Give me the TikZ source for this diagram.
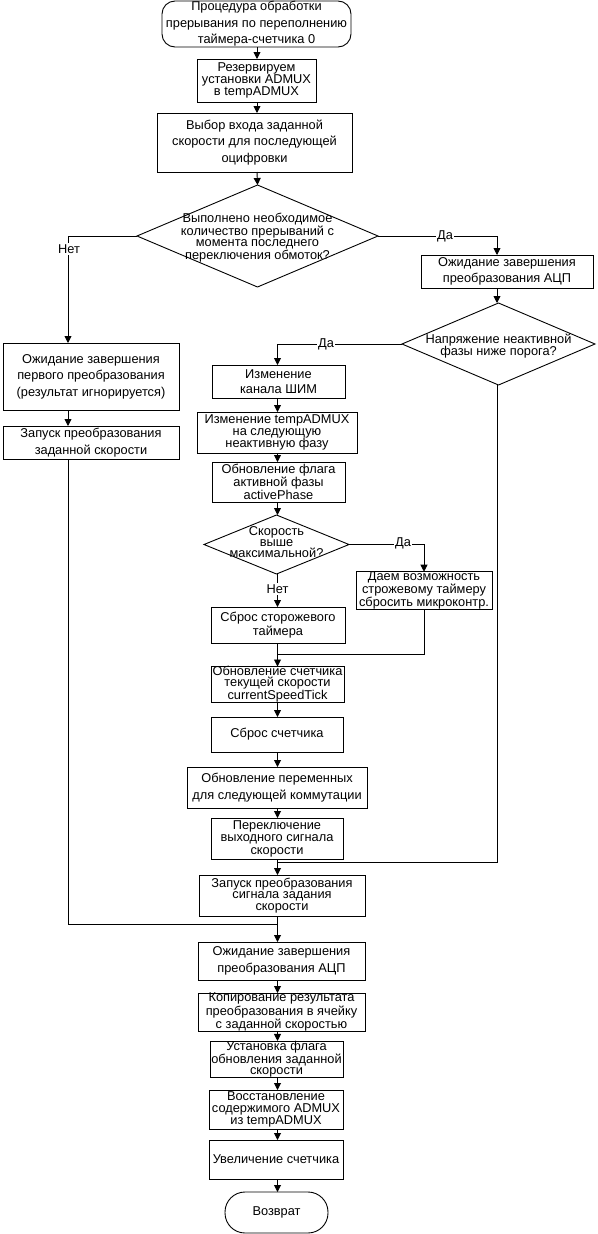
\documentclass[tikz,border=0pt]{standalone}
\usepackage{fontspec}
\setmainfont{Liberation Sans}
\usetikzlibrary{shapes.geometric,arrows.meta}
\tikzset{
  base/.style={draw, line width=0.9pt, inner sep=0pt, outer sep=0pt, align=center, font=\fontsize{12.8}{15}\selectfont},
  sz/.style 2 args={minimum width=#1pt, minimum height=#2pt},
  tight/.style={font=\fontsize{12.8}{12}\selectfont},
  vtight/.style={font=\fontsize{12.8}{11}\selectfont},
  loose/.style={font=\fontsize{12.8}{16.5}\selectfont},
  proc/.style={base, rectangle},
  term/.style={base, rectangle, rounded corners=13pt},
  stadium/.style={base, rectangle, rounded corners=20pt},
  dia/.style={base, diamond},
  dtext/.style={align=center, inner sep=0pt, font=\fontsize{12.8}{11}\selectfont},
  lbl/.style={fill=white, inner sep=1.5pt, font=\fontsize{12.8}{14}\selectfont},
  arr/.style={line width=0.9pt, -{Triangle[width=7pt,length=7pt]}},
  ln/.style={line width=0.9pt},
}
\begin{document}
\begin{tikzpicture}[x=1pt,y=-1pt]
\useasboundingbox (0,0) rectangle (597,1234);
% column coordinates
\coordinate (colA) at (257,0);
\coordinate (colL) at (68,0);
\coordinate (colM) at (277.5,0);
\coordinate (colR) at (497,0);
\coordinate (colW) at (424,0);
% nodes
\node[term, loose, sz={189}{46}] (start) at (256.5,24) {Процедура обработки\\прерывания по переполнению\\таймера-счетчика 0};
\node[proc, tight, sz={119}{43}] (res) at (256.5,80.5) {Резервируем\\установки ADMUX\\в tempADMUX};
\node[proc, loose, sz={195}{59}] (sel) at (254.5,142.5) {Выбор входа заданной\\скорости для последующей\\оцифровки};
\node[dia, sz={241}{102}] (d1) at (257.5,236) {};
\node[dtext] (d1t) at (257.5,238) {Выполнено необходимое\\количество прерываний с\\момента последнего\\переключения обмоток?};
\node[proc, loose, sz={172}{33}] (waitR) at (507,271.5) {Ожидание завершения\\преобразования АЦП};
\node[dia, sz={193}{82}] (d2) at (498.5,344) {};
\node[dtext, font=\fontsize{12.8}{12.5}\selectfont] (d2t) at (498.5,346) {Напряжение неактивной\\фазы ниже порога?};
\node[proc, loose, sz={176}{67}] (waitL) at (91,376.5) {Ожидание завершения\\первого преобразования\\(результат игнорируется)};
\node[proc, loose, sz={176}{33}] (startL) at (91,442.5) {Запуск преобразования\\заданной скорости};
\node[proc, sz={133}{33}] (pwm) at (278.5,381.5) {Изменение\\канала ШИМ};
\node[proc, tight, sz={160}{41}] (tadm) at (277,432.5) {Изменение tempADMUX\\на следующую\\неактивную фазу};
\node[proc, font=\fontsize{12.8}{13}\selectfont, sz={133}{40}] (flag) at (278.5,482) {Обновление флага\\активной фазы\\activePhase};
\node[dia, sz={145}{59}] (d3) at (276.5,544.5) {};
\node[dtext] (d3t) at (276.5,542) {Скорость\\выше\\максимальной?};
\node[proc, tight, sz={136}{35}] (wd) at (424,590.5) {Даем возможность\\строжевому таймеру\\сбросить микроконтр.};
\node[proc, font=\fontsize{12.8}{13.5}\selectfont, sz={134}{36}] (rst) at (278,625) {Сброс сторожевого\\таймера};
\node[proc, vtight, sz={133}{35}] (cst) at (277.5,684.5) {Обновление счетчика\\текущей скорости\\currentSpeedTick};
\node[proc, sz={132}{35}] (rcnt) at (277,734.5) {Сброс счетчика};
\node[proc, loose, sz={180}{41}] (upd) at (277,787.5) {Обновление переменных\\для следующей коммутации};
\node[proc, font=\fontsize{12.8}{12.5}\selectfont, sz={132}{41}] (sw) at (277,838.5) {Переключение\\выходного сигнала\\скорости};
\node[proc, font=\fontsize{12.8}{11.5}\selectfont, sz={166}{41}] (conv) at (282,895.5) {Запуск преобразования\\сигнала задания\\скорости};
\node[proc, loose, sz={167}{38}] (wait2) at (281.5,961) {Ожидание завершения\\преобразования АЦП};
\node[proc, vtight, sz={167}{38}] (copy) at (281.5,1012) {Копирование результата\\преобразования в ячейку\\с заданной скоростью};
\node[proc, vtight, sz={133}{32}] (setf) at (276.5,1059) {Установка флага\\обновления заданной\\скорости};
\node[proc, tight, sz={134}{39}] (rest) at (276,1109.5) {Восстановление\\содержимого ADMUX\\из tempADMUX};
\node[proc, sz={134}{39}] (inc) at (276,1159.5) {Увеличение счетчика};
\node[stadium, sz={103}{41}] (ret) at (276.5,1212.5) {Возврат};
% junction coordinates
\coordinate (j1) at (277.5,862);
\coordinate (j2) at (277.5,924);
\coordinate (j3) at (277.5,654);
% connectors
\draw[arr] (start.south -| colA) -- (res.north -| colA);
\draw[arr] (res.south -| colA) -- (sel.north -| colA);
\draw[arr] (sel.south -| colA) -- (d1.north);
\draw[arr] (d1.west) -- (d1.west -| colL) -- (waitL.north -| colL);
\draw[arr] (d1.east) -- (d1.east -| colR) -- (waitR.north -| colR);
\draw[arr] (waitR.south -| colR) -- (d2.north -| colR);
\draw[arr] (d2.west) -- (d2.west -| colM) -- (pwm.north -| colM);
\draw[ln] (d2.south -| colR) -- (j1 -| colR) -- (j1);
\draw[arr] (waitL.south -| colL) -- (startL.north -| colL);
\draw[ln] (startL.south -| colL) -- (j2 -| colL) -- (j2);
\draw[arr] (pwm.south -| colM) -- (tadm.north -| colM);
\draw[arr] (tadm.south -| colM) -- (flag.north -| colM);
\draw[arr] (flag.south -| colM) -- (d3.north -| colM);
\draw[arr] (d3.east) -- (d3.east -| colW) -- (wd.north -| colW);
\draw[arr] (d3.south -| colM) -- (rst.north -| colM);
\draw[ln] (wd.south -| colW) -- (j3 -| colW) -- (j3);
\draw[arr] (rst.south -| colM) -- (cst.north -| colM);
\draw[arr] (cst.south -| colM) -- (rcnt.north -| colM);
\draw[arr] (rcnt.south -| colM) -- (upd.north -| colM);
\draw[arr] (upd.south -| colM) -- (sw.north -| colM);
\draw[arr] (sw.south -| colM) -- (conv.north -| colM);
\draw[arr] (conv.south -| colM) -- (wait2.north -| colM);
\draw[arr] (wait2.south -| colM) -- (copy.north -| colM);
\draw[arr] (copy.south -| colM) -- (setf.north -| colM);
\draw[arr] (setf.south -| colM) -- (rest.north -| colM);
\draw[arr] (rest.south -| colM) -- (inc.north -| colM);
\draw[arr] (inc.south -| colM) -- (ret.north -| colM);
% labels
\node[lbl] (l1) at (69,249) {Нет};
\node[lbl] (l2) at (445,236) {Да};
\node[lbl] (l3) at (326,344) {Да};
\node[lbl] (l4) at (403,543) {Да};
\node[lbl] (l5) at (277.5,589) {Нет};
\end{tikzpicture}
\end{document}
